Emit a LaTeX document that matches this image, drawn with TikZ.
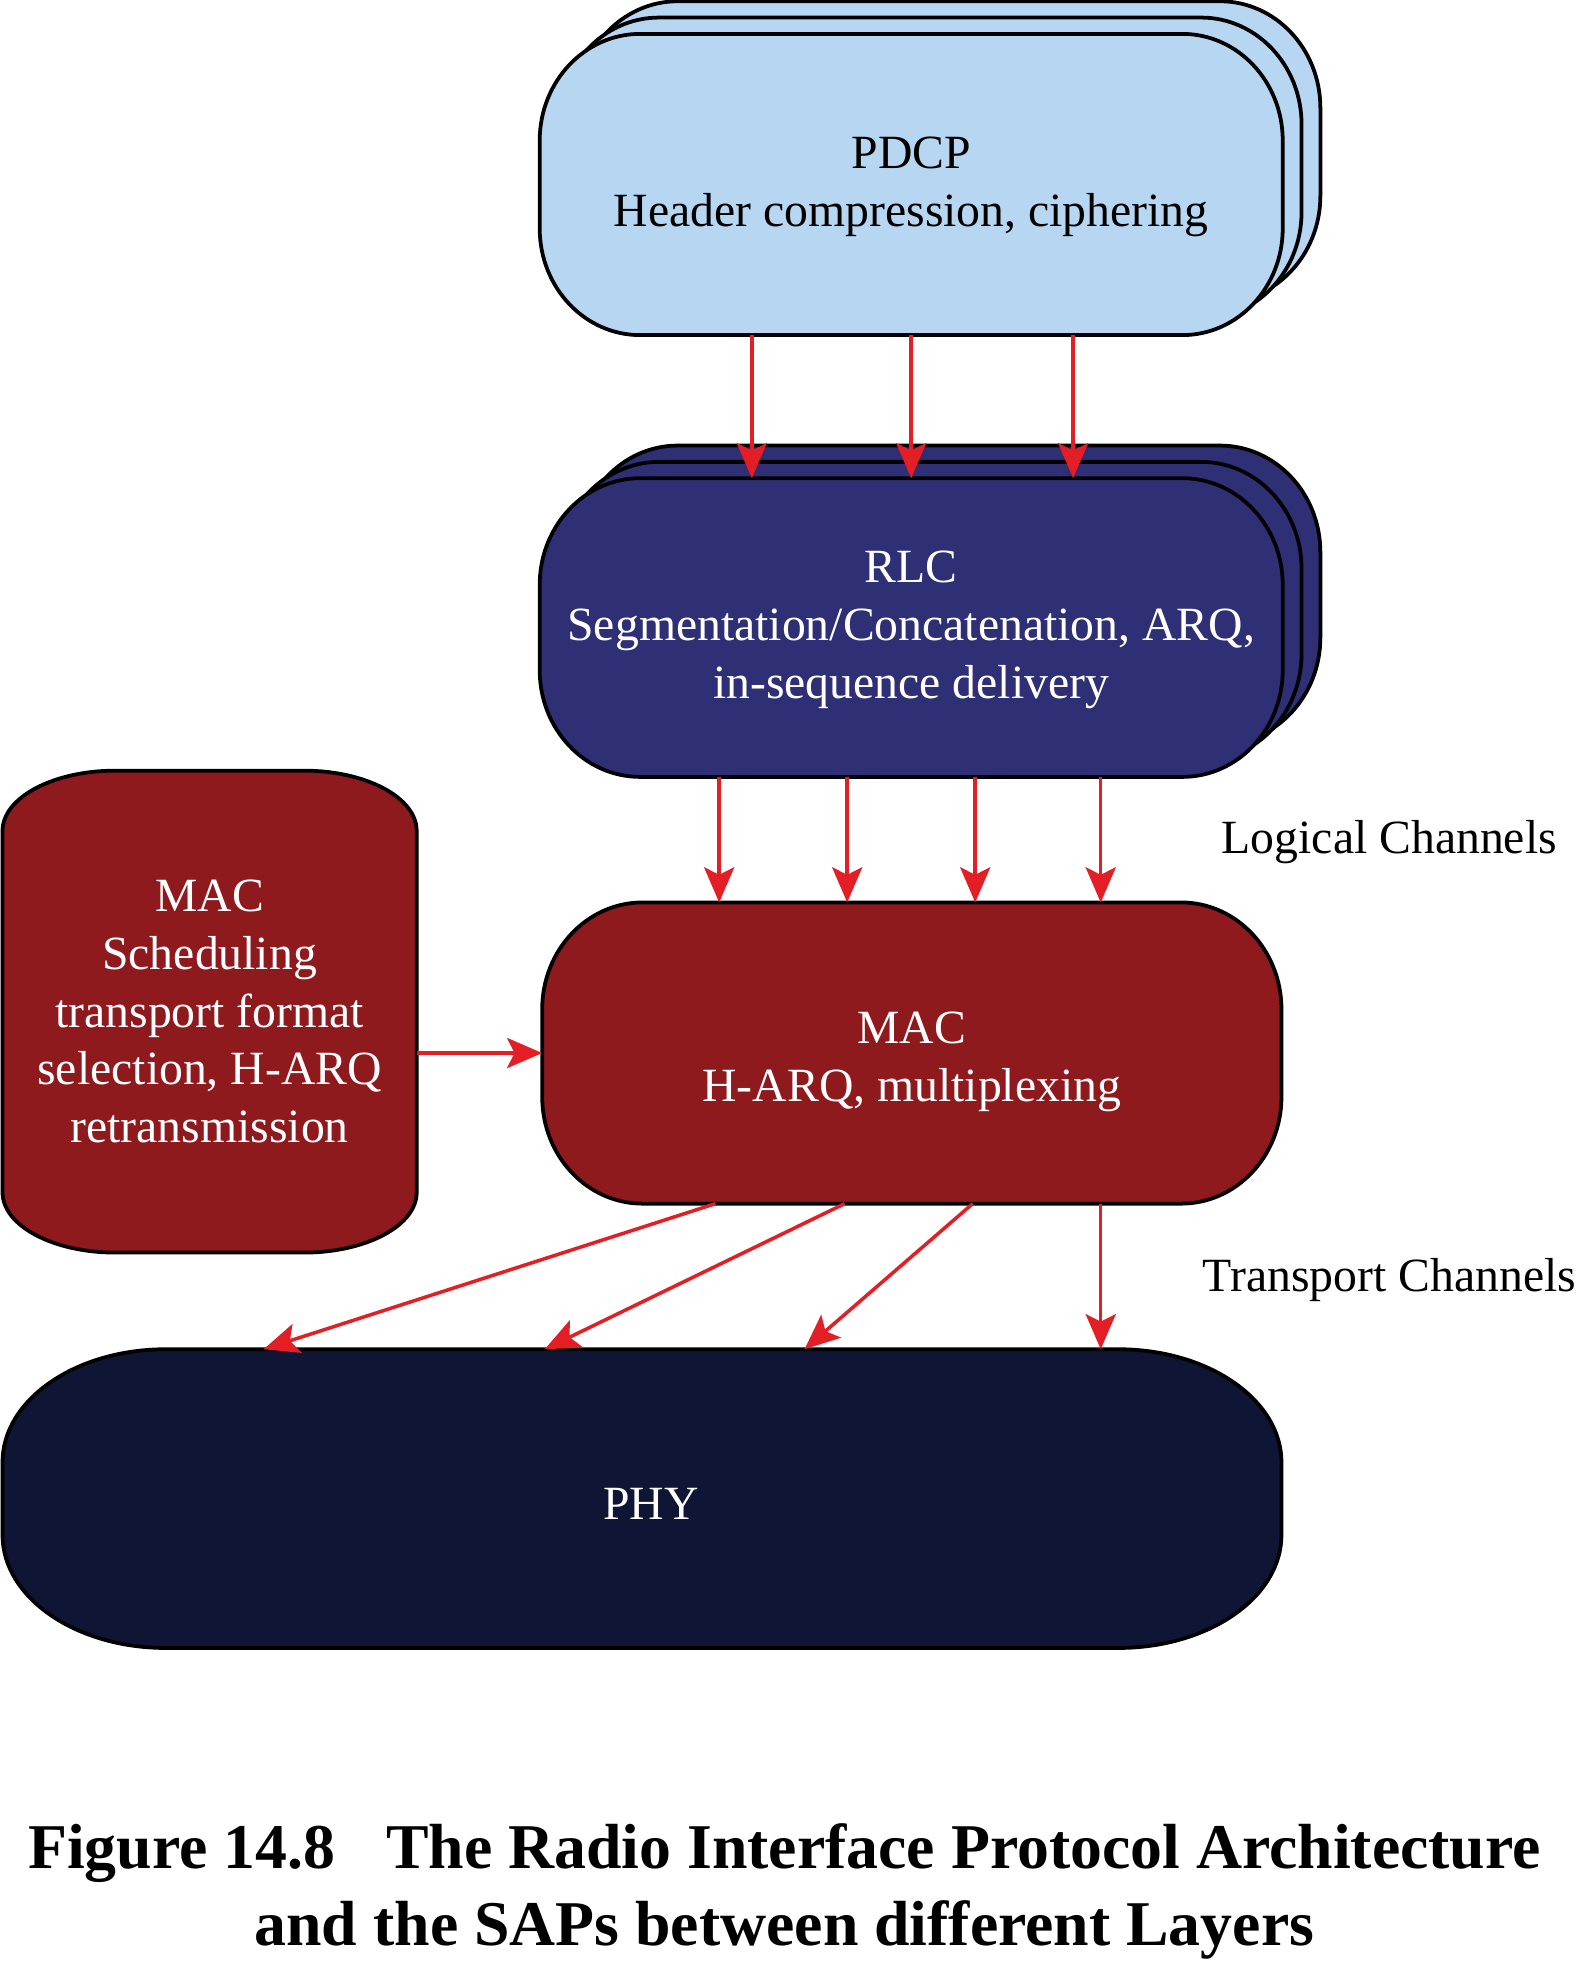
\documentclass[tikz,border=0pt]{standalone}
\usepackage{fontspec}
\setmainfont{Liberation Serif}
\usetikzlibrary{arrows.meta,calc}
\definecolor{pdcpc}{HTML}{B7D6F1}
\definecolor{rlcc}{HTML}{2E2F75}
\definecolor{macc}{HTML}{8F1A1E}
\definecolor{phyc}{HTML}{0F1535}
\definecolor{arrc}{HTML}{E31E24}
\newcommand\rrect[7]{%
  \pgfmathsetmacro\rrKa{0.5523*#5}\pgfmathsetmacro\rrKb{0.5523*#6}%
  \pgfmathsetmacro\rrXa{#1+#5}\pgfmathsetmacro\rrXb{#3-#5}%
  \pgfmathsetmacro\rrYa{#2+#6}\pgfmathsetmacro\rrYb{#4-#6}%
  \draw[shapeline, fill=#7] (\rrXa,#2) -- (\rrXb,#2)
    .. controls +(\rrKa,0) and +(0,-\rrKb) .. (#3,\rrYa) -- (#3,\rrYb)
    .. controls +(0,\rrKb) and +(\rrKa,0) .. (\rrXb,#4) -- (\rrXa,#4)
    .. controls +(-\rrKa,0) and +(0,\rrKb) .. (#1,\rrYb) -- (#1,\rrYa)
    .. controls +(0,-\rrKb) and +(-\rrKa,0) .. (\rrXa,#2) -- cycle;}
\tikzset{
  shapeline/.style={draw=black, line width=1.5pt, line join=round},
  boxnode/.style={inner sep=0pt, outer sep=0pt},
  lbl/.style={align=center, inner sep=0pt, font=\fontsize{19}{23}\selectfont},
  arr/.style={draw=arrc, line width=1.4pt, -{Stealth[length=14pt,width=12pt,inset=3pt]}},
}
\begin{document}
\begin{tikzpicture}[x=0.5pt,y=-0.5pt]
\useasboundingbox (0,0) rectangle (1256,1568);
% PDCP stack
\rrect{460}{1}{1052}{241}{80}{85}{pdcpc}
\rrect{445}{14}{1037}{254}{80}{85}{pdcpc}
\rrect{430}{27}{1022}{267}{80}{85}{pdcpc}
\node[boxnode, minimum width=296pt, minimum height=120pt] (pdcp) at (726,147) {};
\node[lbl] (pdcpt) at (726,149) {PDCP\\Header compression, ciphering};
% RLC stack
\rrect{460}{355}{1052}{593}{80}{85}{rlcc}
\rrect{445}{368}{1037}{606}{80}{85}{rlcc}
\rrect{430}{381}{1022}{619}{80}{85}{rlcc}
\node[boxnode, minimum width=296pt, minimum height=119pt] (rlc) at (726,500) {};
\node[lbl, text=white] (rlct) at (726,502) {RLC\\Segmentation/Concatenation, ARQ,\\in-sequence delivery};
% MAC
\rrect{432}{719}{1021}{959}{80}{85}{macc}
\node[boxnode, minimum width=294.5pt, minimum height=120pt] (mac) at (726.5,839) {};
\node[lbl, text=white] (mact) at (726.5,846) {MAC\\H-ARQ, multiplexing};
% MAC scheduling
\rrect{2}{614}{332}{998}{90}{48}{macc}
\node[boxnode, minimum width=165pt, minimum height=192pt] (macs) at (167,806) {};
\node[lbl, text=white] (macst) at (167,806) {MAC\\Scheduling\\transport format\\selection, H-ARQ\\retransmission};
% PHY
\rrect{2}{1075}{1021}{1313}{130}{90}{phyc}
\node[boxnode, minimum width=509.5pt, minimum height=119pt] (phy) at (511.5,1194) {};
\node[lbl, text=white] (phyt) at (518.5,1198) {PHY};
% labels
\node[lbl, anchor=west] (logch) at (973,671) {Logical Channels};
\node[lbl, anchor=west] (trch) at (958,1020) {Transport Channels};
% caption
\node[align=center, inner sep=0pt, font=\fontsize{25.4}{30.5}\selectfont\bfseries] (cap) at (625,1507) {Figure 14.8\hspace{0.8em}The Radio Interface Protocol Architecture\\and the SAPs between different Layers};
% coordinates for connector x positions
\coordinate (p1) at (599,0);
\coordinate (p2) at (726,0);
\coordinate (p3) at (855,0);
\coordinate (r1) at (573,0);
\coordinate (r2) at (675,0);
\coordinate (r3) at (777,0);
\coordinate (r4) at (877,0);
\coordinate (m1) at (570,0);
\coordinate (m2) at (673,0);
\coordinate (m3) at (775,0);
\coordinate (m4) at (877,0);
\coordinate (h1) at (210,0);
\coordinate (h2) at (434,0);
\coordinate (h3) at (641,0);
\coordinate (h4) at (877,0);
% connectors
\draw[arr] (pdcp.south -| p1) -- (rlc.north -| p1);
\draw[arr] (pdcp.south -| p2) -- (rlc.north -| p2);
\draw[arr] (pdcp.south -| p3) -- (rlc.north -| p3);
\draw[arr] (rlc.south -| r1) -- (mac.north -| r1);
\draw[arr] (rlc.south -| r2) -- (mac.north -| r2);
\draw[arr] (rlc.south -| r3) -- (mac.north -| r3);
\draw[arr] (rlc.south -| r4) -- (mac.north -| r4);
\draw[arr] (macs.east |- mac.west) -- (mac.west);
\draw[arr] (mac.south -| m1) -- (phy.north -| h1);
\draw[arr] (mac.south -| m2) -- (phy.north -| h2);
\draw[arr] (mac.south -| m3) -- (phy.north -| h3);
\draw[arr] (mac.south -| m4) -- (phy.north -| h4);
\end{tikzpicture}
\end{document}
